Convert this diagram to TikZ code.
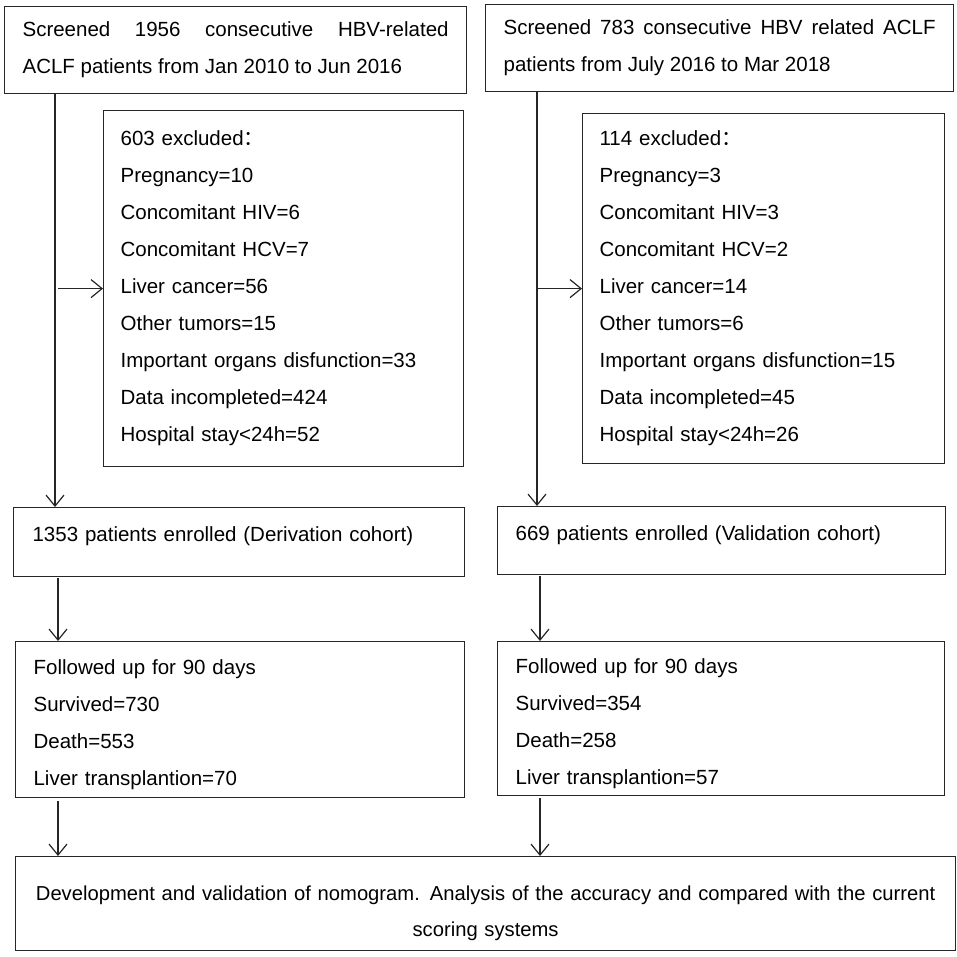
\documentclass[tikz,border=0pt]{standalone}
\usepackage{fontspec}
\setmainfont{Liberation Sans}
\newfontfamily\cjk{Noto Sans CJK SC}
\usetikzlibrary{arrows.meta,calc}
\begin{document}
\begin{tikzpicture}[x=1pt,y=-1pt,
  box/.style={draw=black!85, line width=1.2pt, anchor=north west, inner xsep=18pt, inner ysep=0pt,
    font=\fontsize{20.5}{37}\selectfont, align=left},
  arr/.style={draw=black!85, line width=1.2pt, -{Straight Barb[length=11pt,width=18pt,line width=1.2pt]}}]
\useasboundingbox (0,0) rectangle (957,956);
% top boxes
\node[box, align=justify, text width=426pt, minimum height=87pt] (tl) at (4,6)
  {Screened 1956 consecutive HBV-related\linebreak ACLF patients from Jan 2010 to Jun 2016};
\node[box, align=justify, text width=432pt, minimum height=87pt] (tr) at (485,4)
  {Screened 783 consecutive HBV related ACLF\linebreak patients from July 2016 to Mar 2018};
% exclusion boxes
\node[box, inner xsep=17pt, text width=326pt, minimum height=356pt] (exl) at (103,110)
  {603 excluded{\cjk ：}\\Pregnancy=10\\Concomitant HIV=6\\Concomitant HCV=7\\Liver cancer=56\\Other tumors=15\\Important organs disfunction=33\\Data incompleted=424\\Hospital stay<24h=52};
\node[box, inner xsep=17pt, text width=328pt, minimum height=350pt] (exr) at (582,113)
  {114 excluded{\cjk ：}\\Pregnancy=3\\Concomitant HIV=3\\Concomitant HCV=2\\Liver cancer=14\\Other tumors=6\\Important organs disfunction=15\\Data incompleted=45\\Hospital stay<24h=26};
% enrolled boxes
\node[box, inner xsep=19pt, text width=413pt, minimum height=69pt] (enl) at (13,507)
  {1353 patients enrolled (Derivation cohort)\rule[-16pt]{0pt}{0pt}};
\node[box, text width=412pt, minimum height=68pt] (enr) at (497,506)
  {669 patients enrolled (Validation cohort)\rule[-16pt]{0pt}{0pt}};
% follow-up boxes
\node[box, text width=413pt, minimum height=156pt] (ful) at (15,641)
  {\rule{0pt}{25pt}Followed up for 90 days\\Survived=730\\Death=553\\Liver transplantion=70};
\node[box, text width=411pt, minimum height=154pt] (fur) at (497,641)
  {\rule{0pt}{25pt}Followed up for 90 days\\Survived=354\\Death=258\\Liver transplantion=57};
% final box
\node[box, align=center, text width=904pt, minimum height=94pt, font=\fontsize{20.2}{36}\selectfont] (fin) at (15,856)
  {\rule{0pt}{33pt}Development and validation of nomogram. Analysis of the accuracy and compared with the current\\scoring systems};
% connectors
\coordinate (la) at ($(tl.south west)+(51,0)$);
\draw[arr] (la) -- (la |- enl.north);
\draw[arr] ($(la |- exl.west)+(3,0)$) -- (exl.west);
\coordinate (ra) at ($(tr.south west)+(52,0)$);
\draw[arr] (ra) -- (ra |- enr.north);
\draw[arr] ($(ra |- exr.west)+(0,0)$) -- (exr.west);
\coordinate (lb) at ($(enl.south west)+(45,1)$);
\draw[arr] (lb) -- (lb |- ful.north);
\coordinate (rb) at ($(enr.south west)+(43,1)$);
\draw[arr] (rb) -- (rb |- fur.north);
\coordinate (lc) at ($(ful.south west)+(43,3)$);
\draw[arr] (lc) -- (lc |- fin.north);
\coordinate (rc) at ($(fur.south west)+(43,2)$);
\draw[arr] (rc) -- (rc |- fin.north);
\end{tikzpicture}
\end{document}
